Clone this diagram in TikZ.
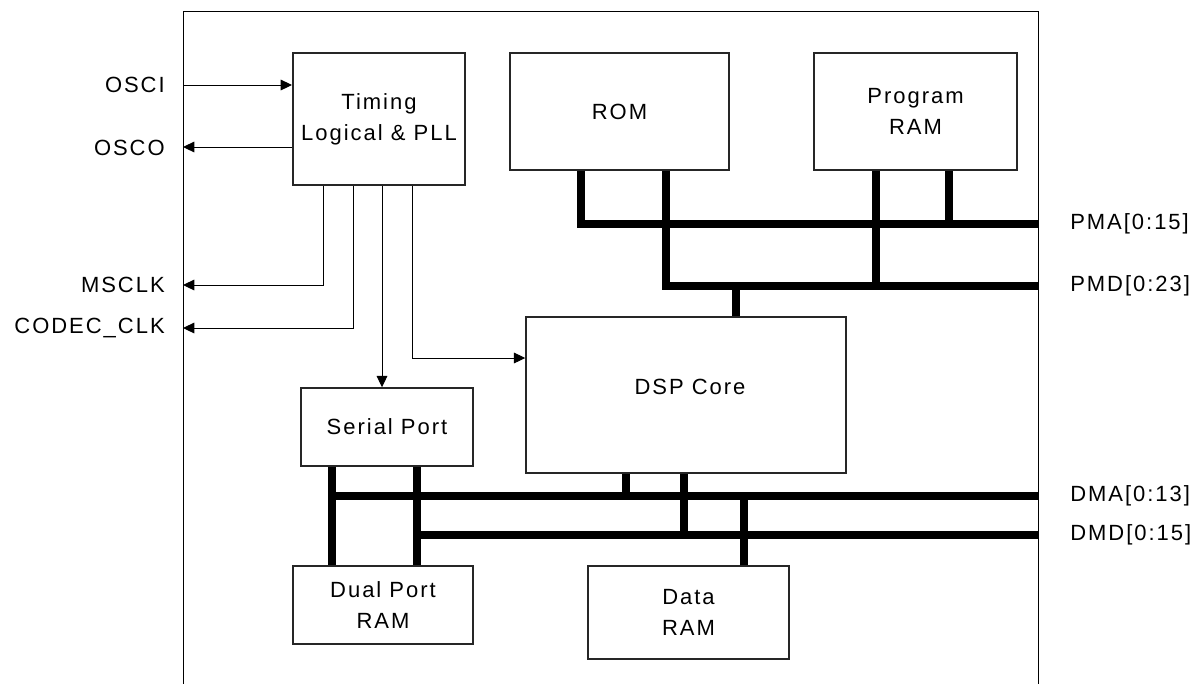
\documentclass[tikz,border=0pt]{standalone}
\usepackage{fontspec}
\setmainfont{Liberation Sans}[LetterSpace=9]
\usetikzlibrary{arrows.meta}
\begin{document}
\begin{tikzpicture}[x=0.75pt,y=-0.75pt,
  every node/.style={font=\fontsize{16.5}{23}\selectfont, inner sep=0pt},
  blk/.style={draw=black!85, line width=1.1pt, align=center},
  sig/.style={line width=0.75pt, -{Triangle[length=8.5pt,width=8pt]}},
  bus/.style={line width=6.6pt, line join=miter},
  lbl/.style={anchor=east},
  rlbl/.style={anchor=west}]
\useasboundingbox (0,0) rectangle (1201,683);
\begin{scope}
\clip (0,0) rectangle (1201,683);
\draw[line width=0.75pt] (183,700) -- (183,11) -- (1038,11) -- (1038,700);
\end{scope}

% blocks
\node[blk, line width=1.5pt, minimum width=129pt, minimum height=99pt] (timing) at (379,119) {Timing\\Logical \& PLL};
\node[blk, minimum width=164.25pt, minimum height=87.75pt] (rom) at (619.5,111.5) {ROM};
\node[blk, minimum width=152.25pt, minimum height=87.75pt] (pram) at (915.5,111.5) {Program\\RAM};
\node[blk, minimum width=240pt, minimum height=117pt] (dsp) at (686,395) {};
\node (dsptxt) at (690,387) {DSP Core};
\node[blk, minimum width=129pt, minimum height=58.5pt] (serial) at (387,427) {Serial Port};
\node[blk, minimum width=135pt, minimum height=58.5pt] (dual) at (383,605) {Dual Port\\RAM};
\node[blk, minimum width=150.75pt, minimum height=69.75pt] (data) at (688.5,612.5) {Data\\RAM};

% left labels
\node[lbl] (osci) at (165,85) {OSCI};
\node[lbl] (osco) at (165,148) {OSCO};
\node[lbl] (msclk) at (165,285) {MSCLK};
\node[lbl] (codec) at (165,328) {CODEC\_CLK};

% right labels
\node[rlbl] (pma) at (1070,224) {PMA[0:15]};
\node[rlbl] (pmd) at (1070,286) {PMD[0:23]};
\node[rlbl] (dma) at (1070,496) {DMA[0:13]};
\node[rlbl] (dmd) at (1070,535) {DMD[0:15]};

% port coordinates on the outer box
\coordinate (osciP) at (183,85);
\coordinate (oscoP) at (183,147);
\coordinate (msP) at (183,285);
\coordinate (codecP) at (183,328);
\coordinate (pmaR) at (1038,224);
\coordinate (pmdR) at (1038,286);
\coordinate (dmaR) at (1038,496);
\coordinate (dmdR) at (1038,535);

% clock signals
\draw[sig] (osciP) -- (osciP -| timing.west);
\draw[sig] (oscoP -| timing.west) -- (oscoP);
\draw[sig] ([xshift=-42pt]timing.south) |- (msP);
\draw[sig] ([xshift=-19.5pt]timing.south) |- (codecP);
\draw[sig] ([xshift=2.25pt]timing.south) -- ([xshift=2.25pt]timing.south |- serial.north);
\draw[sig] ([xshift=24.75pt]timing.south) |- ([yshift=27.75pt]dsp.west);

% program buses
\draw[bus] ([xshift=-28.875pt]rom.south) |- (pmaR);
\draw[bus] ([xshift=34.875pt]rom.south) |- (pmdR);
\draw[bus] ([xshift=-29.625pt]pram.south) -- ([xshift=-29.625pt]pram.south |- pmdR);
\draw[bus] ([xshift=25.125pt]pram.south) -- ([xshift=25.125pt]pram.south |- pmaR);
\draw[bus] ([xshift=37.5pt]dsp.north) -- ([xshift=37.5pt]dsp.north |- pmdR);

% data buses
\draw[bus] ([xshift=-41.25pt]serial.south) -- ([xshift=-41.25pt]serial.south |- dual.north);
\draw[bus] ([xshift=22.5pt]serial.south) -- ([xshift=22.5pt]serial.south |- dual.north);
\draw[bus] ([xshift=-41.25pt]serial.south |- dmaR) -- (dmaR);
\draw[bus] ([xshift=22.5pt]serial.south |- dmdR) -- (dmdR);
\draw[bus] ([xshift=-45pt]dsp.south) -- ([xshift=-45pt]dsp.south |- dmaR);
\draw[bus] ([xshift=-1.5pt]dsp.south) -- ([xshift=-1.5pt]dsp.south |- dmdR);
\draw[bus] ([xshift=41.625pt]data.north |- dmaR) -- ([xshift=41.625pt]data.north);
\end{tikzpicture}
\end{document}
